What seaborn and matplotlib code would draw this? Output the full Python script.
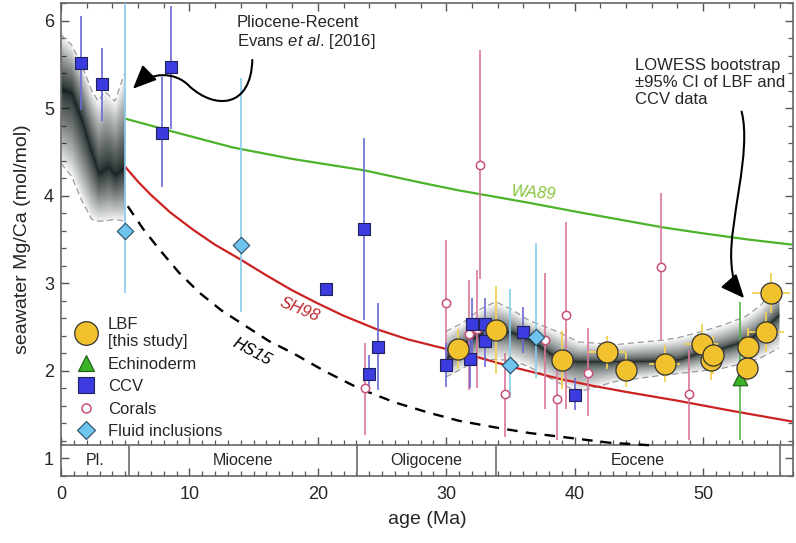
import numpy as np
import matplotlib
matplotlib.use("Agg")
import matplotlib.pyplot as plt
import matplotlib.ticker as mticker
from matplotlib.path import Path
from matplotlib.patches import FancyArrowPatch
from matplotlib.lines import Line2D
import seaborn as sns

sns.set_theme(style="ticks")
plt.rcParams["font.family"] = ["Liberation Sans", "DejaVu Sans"]
plt.rcParams["mathtext.fontset"] = "custom"
plt.rcParams["mathtext.it"] = "Liberation Sans:italic"
plt.rcParams["mathtext.rm"] = "Liberation Sans"

# --- LBF (this study) ---
lbf_age = [30.95, 33.9, 39.0, 42.5, 44.0, 47.0, 49.9, 50.6, 50.8, 53.4, 53.5, 54.9, 55.3]
lbf_mgca = [2.25, 2.47, 2.12, 2.21, 2.01, 2.08, 2.31, 2.12, 2.18, 2.03, 2.27, 2.44, 2.89]
lbf_xerr = [0.3, 0.3, 0.8, 1.5, 0.8, 1.2, 1.3, 0.6, 0.6, 0.5, 0.8, 1.4, 1.5]
lbf_yerr = [0.23, 0.5, 0.33, 0.19, 0.19, 0.21, 0.22, 0.22, 0.22, 0.15, 0.22, 0.23, 0.23]

# --- CCV ---
ccv_age = [1.55, 3.2, 7.9, 8.6, 20.6, 23.6, 24.0, 24.65, 29.97, 31.83, 32.0, 33.0, 33.0, 36.0, 40.0]
ccv_mgca = [5.52, 5.27, 4.72, 5.47, 2.94, 3.62, 1.97, 2.27, 2.07, 2.13, 2.53, 2.53, 2.34, 2.44, 1.72]
ccv_lo = [4.98, 4.85, 4.10, 4.76, 2.94, 2.58, 1.76, 1.78, 1.82, 1.80, 2.20, 2.25, 2.05, 2.20, 1.55]
ccv_hi = [6.05, 5.69, 5.35, 6.17, 2.94, 4.66, 2.18, 2.77, 2.32, 2.45, 2.83, 2.83, 2.60, 2.73, 1.92]

# --- Corals ---
coral_age = [23.7, 29.97, 31.78, 32.4, 32.6, 34.6, 37.7, 38.6, 39.3, 41.0, 46.7, 48.9]
coral_mgca = [1.80, 2.77, 2.42, 2.48, 4.35, 1.74, 2.35, 1.68, 2.64, 1.98, 3.19, 1.74]
coral_lo = [1.27, 2.05, 1.78, 1.81, 3.05, 1.25, 1.57, 1.21, 1.57, 1.48, 2.35, 1.21]
coral_hi = [2.32, 3.49, 3.04, 3.15, 5.66, 2.20, 3.12, 2.01, 3.70, 2.49, 4.03, 2.24]

# --- Fluid inclusions ---
fi_age = [4.97, 14.0, 35.0, 37.0]
fi_mgca = [3.60, 3.44, 2.07, 2.39]
fi_lo = [2.89, 2.67, 1.69, 1.92]
fi_hi = [6.40, 5.34, 2.93, 3.46]

# --- Echinoderm ---
echi_age = [52.9]
echi_mgca = [1.92]
echi_lo = [1.21]
echi_hi = [2.79]

# --- model curves ---
wa89_age = [5, 9, 13.4, 18, 23.6, 28, 31, 36.4, 40, 46.8, 50, 53.5, 57]
wa89_mgca = [4.88, 4.72, 4.55, 4.42, 4.29, 4.15, 4.06, 3.92, 3.82, 3.64, 3.57, 3.50, 3.44]
sh98_age = [5, 6, 7, 8.5, 10.3, 12, 14, 16, 18, 20, 22, 24.5, 27, 30, 32.6, 35, 38.8, 41.4, 44, 48, 52, 57]
sh98_mgca = [4.33, 4.16, 4.01, 3.81, 3.61, 3.44, 3.27, 3.09, 2.92, 2.77, 2.63, 2.48, 2.36, 2.25,
             2.15, 2.05, 1.91, 1.83, 1.76, 1.66, 1.55, 1.42]
hs15_age = [5.2, 6.4, 7.7, 9.2, 10.8, 12.5, 14.4, 16.2, 18.1, 20.5, 23.2, 26, 28.7, 31, 34, 36.5,
            38.8, 42.7, 46]
hs15_mgca = [3.88, 3.62, 3.38, 3.12, 2.89, 2.69, 2.51, 2.34, 2.20, 2.00, 1.80, 1.64, 1.52, 1.43,
             1.35, 1.29, 1.25, 1.18, 1.15]

# --- LOWESS bands ---
plio_age = [0, 0.83, 1.6, 2.4, 2.9, 3.4, 3.7, 4.2, 4.97]
plio_mid = [5.23, 5.17, 4.87, 4.49, 4.26, 4.30, 4.33, 4.24, 4.33]
plio_hi = [5.84, 5.72, 5.50, 5.20, 5.08, 5.19, 5.15, 5.08, 5.40]
plio_lo = [4.37, 4.22, 3.95, 3.73, 3.71, 3.71, 3.72, 3.73, 3.71]

eo_age = [29.97, 31.3, 32.6, 33.85, 35.1, 36.4, 38.8, 40.3, 43.2, 46.8, 48.1, 49.9, 51.5, 53.3, 54.5, 55.9]
eo_mid = [2.14, 2.30, 2.42, 2.47, 2.44, 2.37, 2.13, 2.11, 2.11, 2.12, 2.13, 2.22, 2.26, 2.35, 2.45, 2.64]
eo_hi = [2.45, 2.55, 2.70, 2.79, 2.70, 2.58, 2.44, 2.33, 2.30, 2.35, 2.38, 2.45, 2.52, 2.62, 2.75, 3.00]
eo_lo = [1.93, 2.03, 2.14, 2.13, 2.12, 2.05, 1.86, 1.76, 1.88, 1.95, 1.97, 2.00, 2.03, 2.09, 2.15, 2.26]

# --- epochs ---
epoch_bounds = [0, 5.33, 23.03, 33.9, 56.0]
epoch_names = ["Pl.", "Miocene", "Oligocene", "Eocene"]

XMIN, XMAX, YMIN, YMAX = 0, 57, 0.8, 6.2
BAND_TOP = 1.15

fig, ax = plt.subplots(figsize=(7.96, 5.43), dpi=100)
fig.subplots_adjust(left=0.0766, right=0.9962, bottom=0.1234, top=0.9945)


def draw_band(ax, x, mid, lo, hi, power, n, alpha):
    x = np.asarray(x); mid = np.asarray(mid); lo = np.asarray(lo); hi = np.asarray(hi)
    for f in np.linspace(1, 0.02, n) ** power:
        ax.fill_between(x, mid - f * (mid - lo), mid + f * (hi - mid),
                        color="#0f1a1a", alpha=alpha, lw=0, zorder=1)
    ax.plot(x, hi, ls=(0, (5, 3)), color="#9a9a9a", lw=0.9, zorder=1.5)
    ax.plot(x, lo, ls=(0, (5, 3)), color="#9a9a9a", lw=0.9, zorder=1.5)


draw_band(ax, plio_age, plio_mid, plio_lo, plio_hi, power=2.5, n=50, alpha=0.05)
draw_band(ax, eo_age, eo_mid, eo_lo, eo_hi, power=5, n=60, alpha=0.05)

# model curves
sns.lineplot(x=wa89_age, y=wa89_mgca, color="#4db32a", lw=1.6, sort=False, ax=ax, zorder=2)
sns.lineplot(x=sh98_age, y=sh98_mgca, color="#cc2222", lw=1.6, sort=False, ax=ax, zorder=2)
sns.lineplot(x=hs15_age, y=hs15_mgca, color="black", lw=1.7, sort=False, ax=ax, zorder=2,
             linestyle=(0, (4.5, 3.5)))

ax.text(36.8, 4.03, "WA89", color="#86c43a", fontsize=12, style="italic",
        rotation=-4, ha="center", va="center")
ax.text(18.6, 2.70, "SH98", color="#c0282d", fontsize=12, style="italic",
        rotation=-22, ha="center", va="center")
ax.text(14.9, 2.22, "HS15", color="black", fontsize=12, style="italic",
        rotation=-28, ha="center", va="center")


def bars(x, y, lo, hi, color, lw=1.2, z=3):
    y = np.asarray(y)
    ax.errorbar(x, y, yerr=[y - np.asarray(lo), np.asarray(hi) - y], fmt="none",
                ecolor=color, elinewidth=lw, capsize=0, zorder=z)


bars(fi_age, fi_mgca, fi_lo, fi_hi, "#86cdee")
bars(coral_age, coral_mgca, coral_lo, coral_hi, "#d8789a")
bars(ccv_age, ccv_mgca, ccv_lo, ccv_hi, "#6a6ad4")
bars(echi_age, echi_mgca, echi_lo, echi_hi, "#58b048")
ax.errorbar(lbf_age, lbf_mgca, xerr=lbf_xerr, yerr=lbf_yerr, fmt="none",
            ecolor="#f2d056", elinewidth=1.3, capsize=0, zorder=3)

sns.scatterplot(x=coral_age, y=coral_mgca, marker="o", s=36, color="white",
                edgecolor="#c8507a", linewidth=1.1, ax=ax, zorder=4)
sns.scatterplot(x=ccv_age, y=ccv_mgca, marker="s", s=70, color="#3b3be0",
                edgecolor="#22225a", linewidth=0.8, ax=ax, zorder=4)
sns.scatterplot(x=fi_age, y=fi_mgca, marker="D", s=70, color="#6ec3ef",
                edgecolor="#2a4a66", linewidth=0.8, ax=ax, zorder=4)
sns.scatterplot(x=echi_age, y=echi_mgca, marker="^", s=110, color="#3cb226",
                edgecolor="#1f5a16", linewidth=0.8, ax=ax, zorder=4)
sns.scatterplot(x=lbf_age, y=lbf_mgca, marker="o", s=230, color="#f2c12e",
                edgecolor="#333333", linewidth=0.9, ax=ax, zorder=5)

# epoch band
for b in epoch_bounds[1:]:
    ax.plot([b, b], [YMIN, BAND_TOP], color="#777777", lw=1.3, zorder=2)
for name, a, b in zip(epoch_names, epoch_bounds[:-1], epoch_bounds[1:]):
    ax.text((a + b) / 2, (YMIN + BAND_TOP) / 2, name, ha="center", va="center", fontsize=11.5)

sec = ax.secondary_xaxis((BAND_TOP - YMIN) / (YMAX - YMIN))
sec.xaxis.set_major_locator(mticker.MultipleLocator(10))
sec.xaxis.set_minor_locator(mticker.MultipleLocator(1))
sec.tick_params(which="both", direction="in", labelbottom=False, labeltop=False, color="#555555")
sec.tick_params(which="major", length=6, width=1)
sec.tick_params(which="minor", length=3.5, width=0.9)
for s in sec.spines.values():
    s.set_color("#666666")
    s.set_linewidth(1.2)

top = ax.secondary_xaxis("top")
top.xaxis.set_major_locator(mticker.MultipleLocator(10))
top.xaxis.set_minor_locator(mticker.MultipleLocator(2))
top.tick_params(which="both", direction="in", labeltop=False, color="#555555")
top.tick_params(which="major", length=6, width=1)
top.tick_params(which="minor", length=3.5, width=0.9)
top.spines["top"].set_visible(False)

ax.set_xlim(XMIN, XMAX)
ax.set_ylim(YMIN, YMAX)
ax.xaxis.set_major_locator(mticker.MultipleLocator(10))
ax.xaxis.set_minor_locator(mticker.MultipleLocator(1))
ax.yaxis.set_major_locator(mticker.MultipleLocator(1))
ax.yaxis.set_minor_locator(mticker.MultipleLocator(0.2))
ax.tick_params(axis="x", which="both", direction="in", top=False, bottom=True, pad=7,
               labelsize=13, color="#555555")
ax.tick_params(axis="y", which="both", direction="in", left=True, right=True, pad=5,
               labelsize=13, color="#555555")
ax.tick_params(which="major", length=6, width=1)
ax.tick_params(which="minor", length=3.5, width=0.9)
for s in ax.spines.values():
    s.set_color("#666666")
    s.set_linewidth(1.2)

ax.set_xlabel("age (Ma)", fontsize=14, labelpad=6)
ax.set_ylabel("seawater Mg/Ca (mol/mol)", fontsize=14, labelpad=9)

# legend
handles = [
    Line2D([], [], ls="none", marker="o", ms=17, mfc="#f2c12e", mec="#333333", mew=0.9),
    Line2D([], [], ls="none", marker="^", ms=12, mfc="#3cb226", mec="#1f5a16", mew=0.8),
    Line2D([], [], ls="none", marker="s", ms=11, mfc="#3b3be0", mec="#22225a", mew=0.8),
    Line2D([], [], ls="none", marker="o", ms=6.5, mfc="white", mec="#c8507a", mew=1.1),
    Line2D([], [], ls="none", marker="D", ms=9, mfc="#6ec3ef", mec="#2a4a66", mew=0.8),
]
labels = ["LBF\n[this study]", "Echinoderm", "CCV", "Corals", "Fluid inclusions"]
ax.legend(handles, labels, loc="lower left", bbox_to_anchor=(0.0, 0.053), frameon=False,
          fontsize=12, handletextpad=0.5, labelspacing=0.45, borderaxespad=0.3,
          handlelength=1.6)

# annotations
ax.text(13.7, 6.06, "Pliocene-Recent\nEvans $\\mathit{et\\ al}$. [2016]", fontsize=12,
        ha="left", va="top", linespacing=1.15)
arrow1 = Path([(14.9, 5.55), (14.8, 5.0), (12.0, 4.98), (10.0, 5.25),
               (8.9, 5.42), (7.0, 5.42), (5.6, 5.22)],
              [Path.MOVETO, Path.CURVE4, Path.CURVE4, Path.CURVE4,
               Path.CURVE4, Path.CURVE4, Path.CURVE4])
ax.add_patch(FancyArrowPatch(path=arrow1, arrowstyle="-|>,head_length=0.8,head_width=0.35",
                             mutation_scale=18, lw=1.5, color="black", zorder=6))

ax.text(44.7, 5.57, "LOWESS bootstrap\n\u00b195% CI of LBF and\nCCV data", fontsize=12,
        ha="left", va="top", linespacing=1.15)
arrow2 = Path([(53.0, 4.96), (53.8, 4.5), (52.0, 3.7), (52.2, 3.25),
               (52.3, 3.0), (52.6, 2.93), (53.2, 2.83)],
              [Path.MOVETO, Path.CURVE4, Path.CURVE4, Path.CURVE4,
               Path.CURVE4, Path.CURVE4, Path.CURVE4])
ax.add_patch(FancyArrowPatch(path=arrow2, arrowstyle="-|>,head_length=0.8,head_width=0.35",
                             mutation_scale=18, lw=1.5, color="black", zorder=6))

fig.savefig("out.png", dpi=100)
